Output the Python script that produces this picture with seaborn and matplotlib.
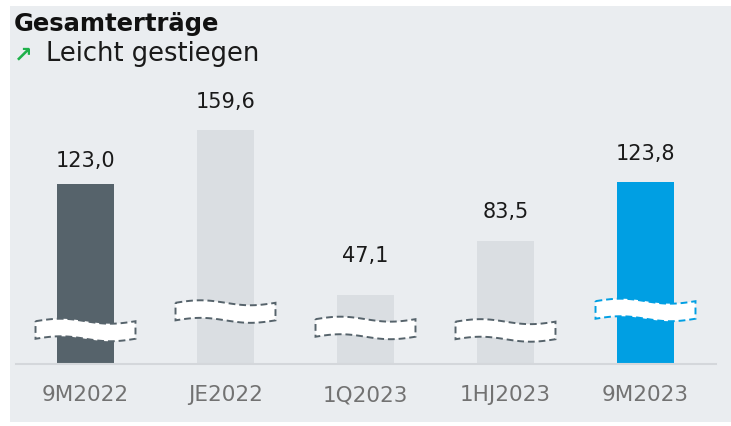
import numpy as np
import pandas as pd
import seaborn as sns
import matplotlib.pyplot as plt
from matplotlib.patches import Polygon, Rectangle

periods = ["9M2022", "JE2022", "1Q2023", "1HJ2023", "9M2023"]
ertraege = [123.0, 159.6, 47.1, 83.5, 123.8]
value_labels = ["123,0", "159,6", "47,1", "83,5", "123,8"]
bar_colors = ["#56636b", "#dadee2", "#dadee2", "#dadee2", "#009fe3"]
break_colors = ["#56636b", "#56636b", "#56636b", "#56636b", "#009fe3"]
title = "Gesamterträge"
subtitle = "Leicht gestiegen"

BG = "#eaedf0"
sns.set_style("white")
plt.rcParams["font.family"] = ["DejaVu Sans"]

df = pd.DataFrame({"period": periods, "value": ertraege})

fig = plt.figure(figsize=(7.31, 4.27), dpi=100)
fig.patch.set_facecolor("white")
panel = Rectangle((10 / 731, 4 / 427), 721 / 731, 416 / 427,
                  transform=fig.transFigure, facecolor=BG, edgecolor="none",
                  zorder=-10)
fig.patches.append(panel)

# axes: x from 15.5 to 715.5 px, baseline at 364.5 px, 1.463 px per unit
ymax = 170
ax = fig.add_axes([15.5 / 731, (427 - 364.5) / 427, 700 / 731, ymax * 1.463 / 427])
ax.set_facecolor("none")
ax.set_zorder(1)

sns.barplot(data=df, x="period", y="value", hue="period", palette=bar_colors,
            width=0.41, legend=False, saturation=1, linewidth=0, ax=ax)
ax.set_xlim(-0.5, 4.5)
ax.set_ylim(0, ymax)

# value labels (gap above bar in px)
gaps = [14, 19, 30, 20, 19]
for i, (v, lab) in enumerate(zip(ertraege, value_labels)):
    ax.annotate(lab, (i, v), xytext=(0, gaps[i] * 72 / 100), textcoords="offset points",
                ha="center", va="bottom", fontsize=15, color="#1a1a1a",
                annotation_clip=False)

# axis break markers
break_y = [22.9, 35.5, 24.3, 22.6, 36.6]
half_w, half_h, amp = 0.357, 6.0, 1.7
t = np.linspace(0, 1, 40)
for i, (yc, ec) in enumerate(zip(break_y, break_colors)):
    xs = i - half_w + 2 * half_w * t
    wave = amp * np.sin(2 * np.pi * t)
    top = np.column_stack([xs, yc + half_h + wave])
    bot = np.column_stack([xs[::-1], yc - half_h + wave[::-1]])
    poly = Polygon(np.vstack([top, bot]), closed=True, facecolor="white",
                   edgecolor=ec, linewidth=1.4, linestyle=(0, (3.5, 2)),
                   zorder=5, clip_on=False)
    ax.add_patch(poly)

sns.despine(ax=ax, left=True, top=True, right=True)
ax.spines["bottom"].set_color("#d4d7db")
ax.spines["bottom"].set_linewidth(1.5)
ax.set_yticks([])
ax.set_xlabel("")
ax.set_ylabel("")
ax.tick_params(axis="x", length=0, pad=15, labelsize=15.5, labelcolor="#727272")

fig.text(14 / 731, 1 - 31 / 427, title, fontsize=17.5, fontweight="bold",
         color="#111111", va="baseline", ha="left")
fig.text(14 / 731, 1 - 61 / 427, "\u2197", fontsize=16, fontweight="bold",
         color="#1fb14b", va="baseline", ha="left")
fig.text(46 / 731, 1 - 61 / 427, subtitle, fontsize=18.5, color="#1a1a1a",
         va="baseline", ha="left")

fig.savefig("out.png", dpi=100, facecolor=fig.get_facecolor())
